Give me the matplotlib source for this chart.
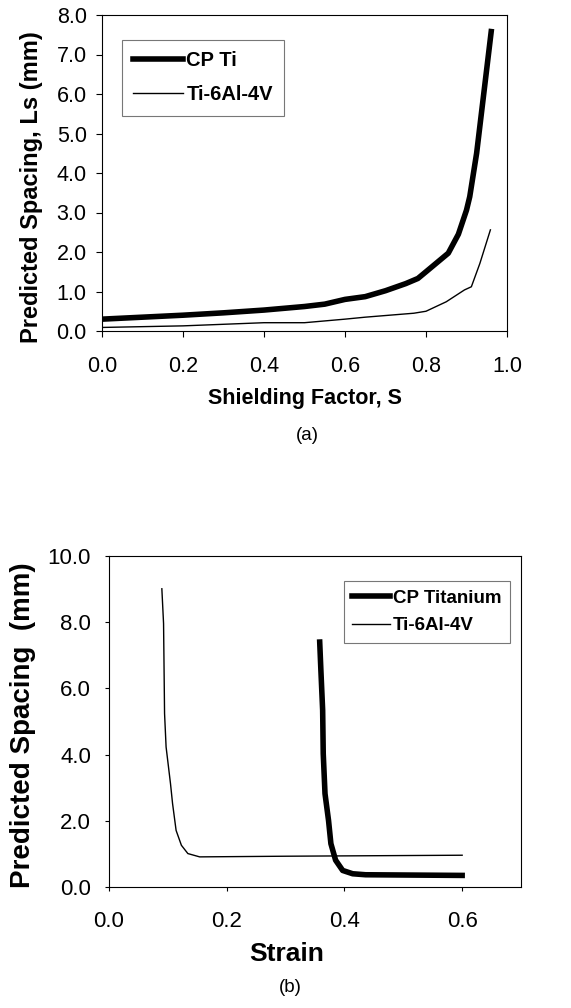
import matplotlib
matplotlib.use('Agg')
import matplotlib.pyplot as plt
import numpy as np

plt.rcParams['font.family'] = ['Liberation Sans', 'DejaVu Sans']

# (a) spacing vs shielding factor
s_cp = [0.0, 0.1, 0.2, 0.3, 0.4, 0.5, 0.55, 0.6, 0.65, 0.7, 0.75, 0.78, 0.8, 0.855, 0.88, 0.9, 0.908, 0.925, 0.961]
ls_cp = [0.30, 0.35, 0.40, 0.46, 0.53, 0.62, 0.68, 0.80, 0.87, 1.02, 1.20, 1.33, 1.50, 1.97, 2.45, 3.06, 3.40, 4.50, 7.58]
s_ti = [0.0, 0.2, 0.4, 0.5, 0.6, 0.65, 0.77, 0.8, 0.85, 0.895, 0.912, 0.933, 0.959]
ls_ti = [0.09, 0.13, 0.21, 0.21, 0.30, 0.35, 0.45, 0.50, 0.74, 1.04, 1.12, 1.71, 2.56]

# (b) spacing vs strain
e_cp = [0.358, 0.360, 0.363, 0.364, 0.367, 0.373, 0.377, 0.385, 0.397, 0.414, 0.436, 0.6]
sp_cp = [7.40, 6.55, 5.34, 4.03, 2.82, 2.01, 1.31, 0.81, 0.50, 0.40, 0.37, 0.35]
e_ti = [0.0898, 0.0927, 0.0944, 0.097, 0.1045, 0.108, 0.114, 0.123, 0.134, 0.154, 0.3, 0.6]
sp_ti = [9.01, 7.96, 5.24, 4.23, 3.12, 2.52, 1.71, 1.26, 1.01, 0.91, 0.93, 0.96]

fig = plt.figure(figsize=(5.71, 10.08), dpi=100)
W, H = 571.0, 1008.0
fmt = matplotlib.ticker.FormatStrFormatter('%.1f')

# panel (a)
ax1 = fig.add_axes([102/W, 1-331/H, 405/W, 316/H])
ax1.plot(s_cp, ls_cp, color='black', lw=4, label='CP Ti')
ax1.plot(s_ti, ls_ti, color='black', lw=1, label='Ti-6Al-4V')
ax1.set_xlim(0, 1.0)
ax1.set_ylim(0, 8.0)
ax1.set_xticks(np.arange(0, 1.01, 0.2))
ax1.set_yticks(np.arange(0, 8.01, 1.0))
ax1.xaxis.set_major_formatter(fmt)
ax1.yaxis.set_major_formatter(fmt)
ax1.tick_params(direction='out', length=4, labelsize=15.5, pad=7)
ax1.tick_params(axis='x', pad=14)
ax1.set_xlabel('Shielding Factor, S', fontsize=15.5, fontweight='bold', labelpad=8)
ax1.set_ylabel('Predicted Spacing, Ls (mm)', fontsize=17, fontweight='bold')
ax1.yaxis.set_label_coords(-0.145, 0.456)
leg1 = ax1.legend(loc='upper left', bbox_to_anchor=(0.049, 0.92), borderaxespad=0,
                  fancybox=False, edgecolor='#555555', prop={'weight': 'bold', 'size': 14.5},
                  handlelength=2.5, borderpad=0.55, labelspacing=0.75, handletextpad=0.15)
leg1.get_frame().set_linewidth(0.8)
fig.text(307/W, 1-436/H, '(a)', ha='center', va='center', fontsize=13.5)

# panel (b)
ax2 = fig.add_axes([109/W, 1-887/H, 412/W, 331/H])
ax2.plot(e_cp, sp_cp, color='black', lw=4, label='CP Titanium')
ax2.plot(e_ti, sp_ti, color='black', lw=1, label='Ti-6Al-4V')
ax2.set_xlim(0, 0.7)
ax2.set_ylim(0, 10.0)
ax2.set_xticks(np.arange(0, 0.61, 0.2))
ax2.set_yticks(np.arange(0, 10.01, 2.0))
ax2.xaxis.set_major_formatter(fmt)
ax2.yaxis.set_major_formatter(fmt)
ax2.tick_params(direction='out', length=3, labelsize=16, pad=10)
ax2.tick_params(axis='x', pad=14)
ax2.set_xlabel('Strain', fontsize=19, fontweight='bold')
ax2.xaxis.set_label_coords(0.432, -0.165)
ax2.set_ylabel('Predicted Spacing  (mm)', fontsize=20, fontweight='bold')
ax2.yaxis.set_label_coords(-0.177, 0.49)
leg2 = ax2.legend(loc='upper left', bbox_to_anchor=(0.57, 0.924), borderaxespad=0,
                  fancybox=False, edgecolor='#555555', prop={'weight': 'bold', 'size': 13.5},
                  handlelength=2.0, borderpad=0.45, labelspacing=0.55, handletextpad=0.15)
leg2.get_frame().set_linewidth(0.8)
fig.text(290/W, 1-987/H, '(b)', ha='center', va='center', fontsize=13.5)

fig.savefig('out.png', dpi=100)
